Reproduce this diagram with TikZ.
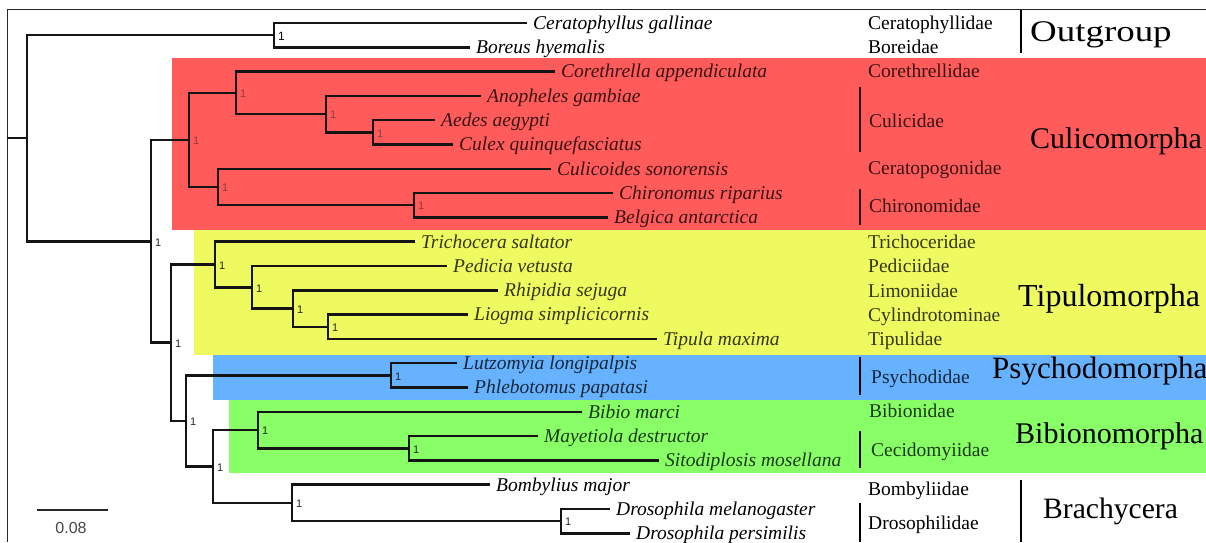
\documentclass[tikz,border=0pt]{standalone}
\usepackage{fontspec}
\setmainfont{Liberation Serif}
\newfontfamily\lsans{Liberation Sans}
\definecolor{bandred}{RGB}{255,91,91}
\definecolor{bandyel}{RGB}{238,250,96}
\definecolor{bandblue}{RGB}{102,178,255}
\definecolor{bandgreen}{RGB}{136,255,102}
\definecolor{framegray}{RGB}{40,40,40}
\newcommand\mytip[5]{%
  \coordinate (#1) at (#2,{23+24.3*#3});
  \node[sp,#4] (#1l) at ({#2+6},{29.3+24.3*#3}) {#5};
}
\newcommand\myinode[4]{%
  \coordinate (#1) at (#2,#3);
  \node[bsup,#4] (#1s) at ({#2+4},{#3+1}) {1};
}
\begin{document}
\begin{tikzpicture}[x=1pt,y=-1pt,
  br/.style={line width=2.5pt, line join=miter, black!92},
  sp/.style={anchor=base west, inner sep=0pt, font=\fontsize{19.5}{20}\selectfont\itshape},
  fam/.style={anchor=base west, inner sep=0pt, font=\fontsize{19.5}{20}\selectfont},
  clade/.style={anchor=base west, inner sep=0pt},
  bsup/.style={anchor=west, inner sep=0pt, font=\lsans\fontsize{11}{11}\selectfont, text=black!85},
  inband/.style={text opacity=0.78},
  faint/.style={text opacity=0.55},
  grp/.style={line width=2.6pt},
]
\useasboundingbox (0,0) rectangle (1206,542);
\fill[white] (0,0) rectangle (1206,542);
% colour bands
\fill[bandred] (172,58) rectangle (1206,230);
\fill[bandyel] (194,230) rectangle (1206,354.5);
\fill[bandblue] (213,355) rectangle (1206,400);
\fill[bandgreen] (229,400) rectangle (1206,473);
% frame
\draw[framegray, line width=1.1pt] (7.3,542) -- (7.3,9.3) -- (1206,9.3);

% tips
\mytip{tCer}{527}{0}{}{Ceratophyllus gallinae}
\mytip{tBor}{470}{1}{}{Boreus hyemalis}
\mytip{tCor}{555}{2}{inband}{Corethrella appendiculata}
\mytip{tAno}{481}{3}{inband}{Anopheles gambiae}
\mytip{tAed}{435}{4}{inband}{Aedes aegypti}
\mytip{tCul}{453}{5}{inband}{Culex quinquefasciatus}
\mytip{tCuc}{551}{6}{inband}{Culicoides sonorensis}
\mytip{tChi}{613}{7}{inband}{Chironomus riparius}
\mytip{tBel}{608}{8}{inband}{Belgica antarctica}
\mytip{tTri}{415}{9}{inband}{Trichocera saltator}
\mytip{tPed}{447}{10}{inband}{Pedicia vetusta}
\mytip{tRhi}{498}{11}{inband}{Rhipidia sejuga}
\mytip{tLio}{468}{12}{inband}{Liogma simplicicornis}
\mytip{tTip}{657}{13}{inband}{Tipula maxima}
\mytip{tLut}{457}{14}{inband}{Lutzomyia longipalpis}
\mytip{tPhl}{468}{15}{inband}{Phlebotomus papatasi}
\mytip{tBib}{582}{16}{inband}{Bibio marci}
\mytip{tMay}{538}{17}{inband}{Mayetiola destructor}
\mytip{tSit}{659}{18}{inband}{Sitodiplosis mosellana}
\mytip{tBom}{490}{19}{}{Bombylius major}
\mytip{tDme}{610}{20}{}{Drosophila melanogaster}
\mytip{tDpe}{630}{21}{}{Drosophila persimilis}

% internal nodes
\coordinate (rootin) at (7.3,138);
\coordinate (root) at (27,138);
\myinode{nOut}{274}{35.2}{text=black, font=\lsans\fontsize{12}{12}\selectfont}
\myinode{nIn}{151}{241.3}{}
\myinode{nCul}{189}{140}{faint}
\myinode{nA}{236}{92.8}{faint}
\myinode{nCu}{326}{114}{faint}
\myinode{nAC}{373}{132.4}{faint}
\myinode{nB}{218}{187}{faint}
\myinode{nChi}{414}{205}{faint}
\myinode{nRest}{171}{342.7}{}
\myinode{nTip}{215}{264.5}{}
\myinode{nT2}{252}{287.3}{}
\myinode{nT3}{293}{308.5}{}
\myinode{nT4}{328}{326.8}{}
\myinode{nR2}{186}{421}{}
\myinode{nPsy}{391}{375.4}{}
\myinode{nR3}{213}{466.5}{}
\myinode{nBib}{258}{430}{}
\myinode{nCec}{409}{448.3}{}
\myinode{nBra}{292}{503}{}
\myinode{nDro}{561}{521.2}{}

% branches
\draw[br] (rootin) -- (root);
\draw[br] (root) |- (nOut);
\draw[br] (root) |- (nIn);
\draw[br] (nOut) |- (tCer);
\draw[br] (nOut) |- (tBor);
\draw[br] (nIn) |- (nCul);
\draw[br] (nIn) |- (nRest);
\draw[br] (nCul) |- (nA);
\draw[br] (nCul) |- (nB);
\draw[br] (nA) |- (tCor);
\draw[br] (nA) |- (nCu);
\draw[br] (nCu) |- (tAno);
\draw[br] (nCu) |- (nAC);
\draw[br] (nAC) |- (tAed);
\draw[br] (nAC) |- (tCul);
\draw[br] (nB) |- (tCuc);
\draw[br] (nB) |- (nChi);
\draw[br] (nChi) |- (tChi);
\draw[br] (nChi) |- (tBel);
\draw[br] (nRest) |- (nTip);
\draw[br] (nRest) |- (nR2);
\draw[br] (nTip) |- (tTri);
\draw[br] (nTip) |- (nT2);
\draw[br] (nT2) |- (tPed);
\draw[br] (nT2) |- (nT3);
\draw[br] (nT3) |- (tRhi);
\draw[br] (nT3) |- (nT4);
\draw[br] (nT4) |- (tLio);
\draw[br] (nT4) |- (tTip);
\draw[br] (nR2) |- (nPsy);
\draw[br] (nR2) |- (nR3);
\draw[br] (nPsy) |- (tLut);
\draw[br] (nPsy) |- (tPhl);
\draw[br] (nR3) |- (nBib);
\draw[br] (nR3) |- (nBra);
\draw[br] (nBib) |- (tBib);
\draw[br] (nBib) |- (nCec);
\draw[br] (nCec) |- (tMay);
\draw[br] (nCec) |- (tSit);
\draw[br] (nBra) |- (tBom);
\draw[br] (nBra) |- (nDro);
\draw[br] (nDro) |- (tDme);
\draw[br] (nDro) |- (tDpe);

% family labels
\node[fam] (fCer) at (868,29.3) {Ceratophyllidae};
\node[fam] (fBor) at (868,53) {Boreidae};
\node[fam,inband] (fCor) at (868,77) {Corethrellidae};
\node[fam,inband] (fCul) at (869,127.5) {Culicidae};
\node[fam,inband] (fCer2) at (868,174) {Ceratopogonidae};
\node[fam,inband] (fChi) at (869,212) {Chironomidae};
\node[fam,inband] (fTri) at (868,248) {Trichoceridae};
\node[fam,inband] (fPed) at (868,272.5) {Pediciidae};
\node[fam,inband] (fLim) at (868,297) {Limoniidae};
\node[fam,inband] (fCyl) at (868,321) {Cylindrotominae};
\node[fam,inband] (fTip) at (868,345.5) {Tipulidae};
\node[fam,inband] (fPsy) at (871,383) {Psychodidae};
\node[fam,inband] (fBib) at (869,417.5) {Bibionidae};
\node[fam,inband] (fCec) at (871,456.5) {Cecidomyiidae};
\node[fam] (fBom) at (868,495.5) {Bombyliidae};
\node[fam] (fDro) at (868,529.5) {Drosophilidae};

% grouping bars
\draw[grp] (1021,10) -- (1021,53);
\draw[grp,opacity=0.85] (860,87) -- (860,152);
\draw[grp,opacity=0.85] (860,189) -- (860,225);
\draw[grp] (860,357) -- (860,395);
\draw[grp] (860,431) -- (860,468);
\draw[grp] (860,503) -- (860,542);
\draw[grp] (1021,480) -- (1021,542);

% clade names
\node[clade,font=\fontsize{30}{32}\selectfont] (cOut) at (1030,41) {\scalebox{1.23}[1]{Outgroup}};
\node[clade,font=\fontsize{30}{32}\selectfont] (cCul) at (1030,148) {Culicomorpha};
\node[clade,font=\fontsize{32}{34}\selectfont] (cTip) at (1018,306) {Tipulomorpha};
\node[clade,font=\fontsize{31}{33}\selectfont] (cPsy) at (992,378) {Psychodomorpha};
\node[clade,font=\fontsize{30}{32}\selectfont] (cBib) at (1015,443) {Bibionomorpha};
\node[clade,font=\fontsize{29.6}{31}\selectfont] (cBra) at (1043,518) {Brachycera};

% scale bar
\coordinate (sbL) at (37,510);
\coordinate (sbR) at (108,510);
\draw[line width=2.8pt, black!85] (sbL) -- (sbR);
\node[anchor=base, inner sep=0pt, font=\lsans\fontsize{16}{16}\selectfont, text=black!72] (sbT) at (71,533) {0.08};
\end{tikzpicture}
\end{document}
